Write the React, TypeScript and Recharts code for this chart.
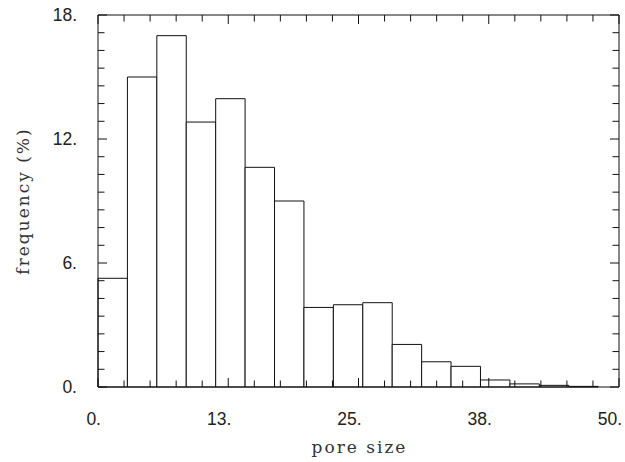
import React from 'react';
import { ComposedChart, XAxis, YAxis, ReferenceArea, Line } from 'recharts';

// Histogram data (frequency in %, 17 equal bins from 0 to 48)
const binMax = 48;
const freqValues = [5.26, 15.0, 17.0, 12.82, 13.95, 10.63, 9.0, 3.85, 3.98, 4.08, 2.06, 1.22, 1.0, 0.34, 0.15, 0.08, 0.03];
const binWidth = binMax / freqValues.length;
const bins = freqValues.map((v, i) => ({ x0: i * binWidth, x1: (i + 1) * binWidth, mid: (i + 0.5) * binWidth, v }));

// Axes
const xDomain: [number, number] = [0, 50];
const yDomain: [number, number] = [0, 18];
const xMajorTicks = [0, 12.5, 25, 37.5, 50];
const xTickLabels = ['0.', '13.', '25.', '38.', '50.'];
const yMajorTicks = [0, 6, 12, 18];
const yTickLabels = ['0.', '6.', '12.', '18.'];
const xAllTicks = Array.from({ length: 21 }, (_, i) => i * 2.5);
const yAllTicks = Array.from({ length: 22 }, (_, i) => (i * 6) / 7);

const xTitle = 'pore size';
const yTitle = 'frequency (%)';

const INK = '#111';
const MAJOR = 9;
const MINOR = 6.5;
const tickFont = { fontFamily: 'Liberation Sans, Arial, sans-serif', fontSize: 17.5, fill: '#222' };
const titleFont = { fontFamily: 'DejaVu Serif, serif', fontSize: 17, fill: '#333', letterSpacing: 2 };

const majorIndex = (arr: number[], v: number) => arr.findIndex((t) => Math.abs(t - v) < 1e-6);

const XTickBottom = (props: any) => {
  const { x, y, payload } = props;
  const idx = majorIndex(xMajorTicks, payload.value);
  const len = idx >= 0 ? MAJOR : MINOR;
  return (
    <g>
      <line x1={x} x2={x} y1={y} y2={y - len} stroke={INK} strokeWidth={1} />
      {idx >= 0 && (
        <text x={x + 3} y={y + 38} textAnchor="end" {...tickFont}>
          {xTickLabels[idx]}
        </text>
      )}
    </g>
  );
};

const XTickTop = (props: any) => {
  const { x, y, payload } = props;
  const idx = majorIndex(xMajorTicks, payload.value);
  const len = idx >= 0 ? MAJOR : MINOR;
  return <line x1={x} x2={x} y1={y} y2={y + len} stroke={INK} strokeWidth={1} />;
};

const YTickLeft = (props: any) => {
  const { x, y, payload } = props;
  const idx = majorIndex(yMajorTicks, payload.value);
  const len = idx >= 0 ? MAJOR : MINOR;
  return (
    <g>
      <line x1={x} x2={x + len} y1={y} y2={y} stroke={INK} strokeWidth={1} />
      {idx >= 0 && (
        <text x={x - 21} y={y + 6} textAnchor="end" {...tickFont}>
          {yTickLabels[idx]}
        </text>
      )}
    </g>
  );
};

const YTickRight = (props: any) => {
  const { x, y, payload } = props;
  const idx = majorIndex(yMajorTicks, payload.value);
  const len = idx >= 0 ? MAJOR : MINOR;
  return <line x1={x} x2={x - len} y1={y} y2={y} stroke={INK} strokeWidth={1} />;
};

const XTitle = (props: any) => {
  const vb = props.viewBox || { x: 98, y: 387, width: 521, height: 75 };
  return (
    <text x={vb.x + vb.width / 2 + 1} y={vb.y + 66} textAnchor="middle" {...titleFont}>
      {xTitle}
    </text>
  );
};

const YTitle = (props: any) => {
  const vb = props.viewBox || { x: 0, y: 15, width: 98, height: 372 };
  const cx = vb.x + 23;
  const cy = vb.y + vb.height / 2;
  return (
    <text
      x={cx}
      y={cy}
      transform={`rotate(-90, ${cx}, ${cy})`}
      textAnchor="middle"
      dominantBaseline="central"
      {...titleFont}
    >
      {yTitle}
    </text>
  );
};

export default function App() {
  return (
    <div style={{ position: 'absolute', left: 0, top: 0, width: 625, height: 462, background: '#fff' }}>
      <ComposedChart width={625} height={462} data={bins} margin={{ top: 14, right: 5, bottom: 0, left: 0 }}>
        {bins.map((b, i) => (
          <ReferenceArea
            key={i}
            x1={b.x0}
            x2={b.x1}
            y1={0}
            y2={b.v}
            fill="#fff"
            fillOpacity={1}
            stroke={INK}
            strokeWidth={1}
            strokeOpacity={1}
            ifOverflow="visible"
          />
        ))}
        <Line dataKey="v" stroke="none" dot={false} activeDot={false} isAnimationActive={false} legendType="none" />
        <XAxis
          dataKey="mid"
          type="number"
          domain={xDomain}
          ticks={xAllTicks}
          interval={0}
          allowDataOverflow
          height={75}
          tickSize={0}
          tickMargin={0}
          tickLine={false}
          axisLine={{ stroke: INK, strokeWidth: 1 }}
          tick={<XTickBottom />}
          label={{ content: <XTitle /> }}
        />
        <XAxis
          xAxisId="top"
          orientation="top"
          dataKey="mid"
          type="number"
          domain={xDomain}
          ticks={xAllTicks}
          interval={0}
          allowDataOverflow
          height={1}
          tickSize={0}
          tickMargin={0}
          tickLine={false}
          axisLine={{ stroke: INK, strokeWidth: 1 }}
          tick={<XTickTop />}
        />
        <YAxis
          type="number"
          domain={yDomain}
          ticks={yAllTicks}
          interval={0}
          allowDataOverflow
          width={98}
          tickSize={0}
          tickMargin={0}
          tickLine={false}
          axisLine={{ stroke: INK, strokeWidth: 1 }}
          tick={<YTickLeft />}
          label={{ content: <YTitle /> }}
        />
        <YAxis
          yAxisId="right"
          orientation="right"
          type="number"
          domain={yDomain}
          ticks={yAllTicks}
          interval={0}
          allowDataOverflow
          width={1}
          tickSize={0}
          tickMargin={0}
          tickLine={false}
          axisLine={{ stroke: INK, strokeWidth: 1 }}
          tick={<YTickRight />}
        />
      </ComposedChart>
    </div>
  );
}
